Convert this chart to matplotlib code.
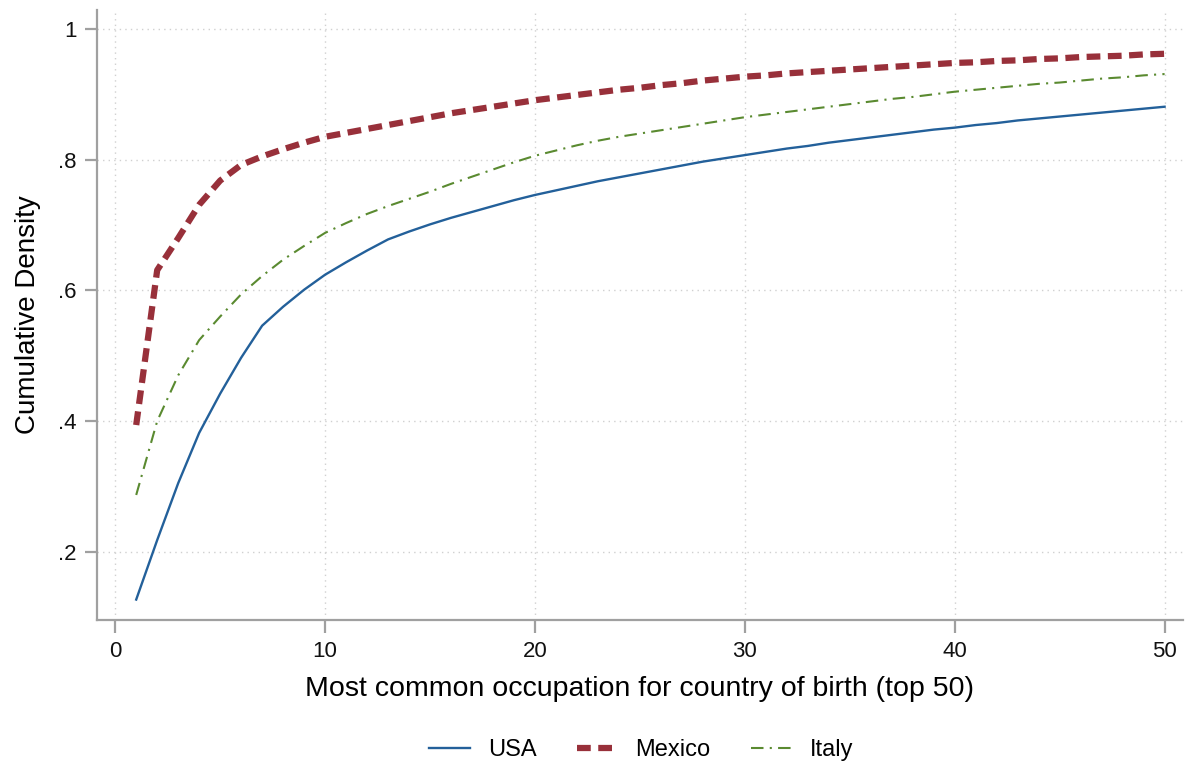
import matplotlib.pyplot as plt

plt.rcParams['font.family'] = ['Liberation Sans', 'DejaVu Sans']

# cumulative share of workers in the top-k occupations, by country of birth
rank = list(range(1, 51))
usa = [.127, .218, .305, .382, .442, .497, .546, .575, .601, .624,
       .643, .661, .678, .690, .701, .711, .720, .729, .738, .746,
       .753, .760, .767, .773, .779, .785, .791, .797, .802, .807,
       .812, .817, .821, .826, .830, .834, .838, .842, .846, .849,
       .853, .856, .860, .863, .866, .869, .872, .875, .878, .881]
mexico = [.394, .631, .680, .731, .768, .792, .805, .816, .826, .835,
          .841, .847, .853, .859, .865, .871, .876, .881, .886, .891,
          .895, .899, .903, .907, .910, .914, .917, .921, .924, .927,
          .929, .932, .934, .936, .938, .940, .942, .944, .946, .948,
          .949, .951, .952, .954, .955, .957, .958, .959, .961, .962]
italy = [.287, .400, .470, .524, .560, .594, .622, .647, .668, .688,
         .703, .717, .729, .740, .751, .763, .774, .785, .796, .806,
         .814, .822, .829, .835, .840, .845, .850, .855, .860, .865,
         .869, .873, .877, .881, .885, .889, .893, .896, .900, .904,
         .907, .910, .913, .916, .918, .921, .924, .926, .929, .931]

xticks = [0, 10, 20, 30, 40, 50]
yticks = [.2, .4, .6, .8, 1]
ylabels = ['.2', '.4', '.6', '.8', '1']

fig = plt.figure(figsize=(11.85, 7.69), dpi=100)
ax = fig.add_axes([0.082, 0.194, 0.916, 0.793])

ax.plot(rank, usa, color='#23609a', lw=1.7, label='USA')
ax.plot(rank, mexico, color='#98303a', lw=4.5, dashes=(2.2, 1.2), label='Mexico')
ax.plot(rank, italy, color='#5a8a30', lw=1.5, dashes=(6, 3, 1, 3), label='Italy')

ax.set_xlim(-0.86, 50.86)
ax.set_ylim(0.096, 1.029)
ax.set_xticks(xticks)
ax.set_yticks(yticks)
ax.set_yticklabels(ylabels)
ax.grid(True, color='#d0d0d0', linestyle=(0, (1, 3)), lw=1)

for s in ['top', 'right']:
    ax.spines[s].set_visible(False)
for s in ['left', 'bottom']:
    ax.spines[s].set_color('#a0a0a0')
    ax.spines[s].set_linewidth(1.6)
ax.tick_params(direction='out', length=9, width=1.6, color='#a0a0a0',
               labelsize=16, labelcolor='#111111', pad=6)

ax.set_xlabel('Most common occupation for country of birth (top 50)', fontsize=20.5, labelpad=10)
ax.set_ylabel('Cumulative Density', fontsize=20, labelpad=12)

fig.legend(loc='center', bbox_to_anchor=(0.541, 0.025), ncol=3, frameon=False,
           fontsize=17, handlelength=1.75, columnspacing=1.7, handletextpad=0.75)

fig.savefig('out.png', dpi=100)
